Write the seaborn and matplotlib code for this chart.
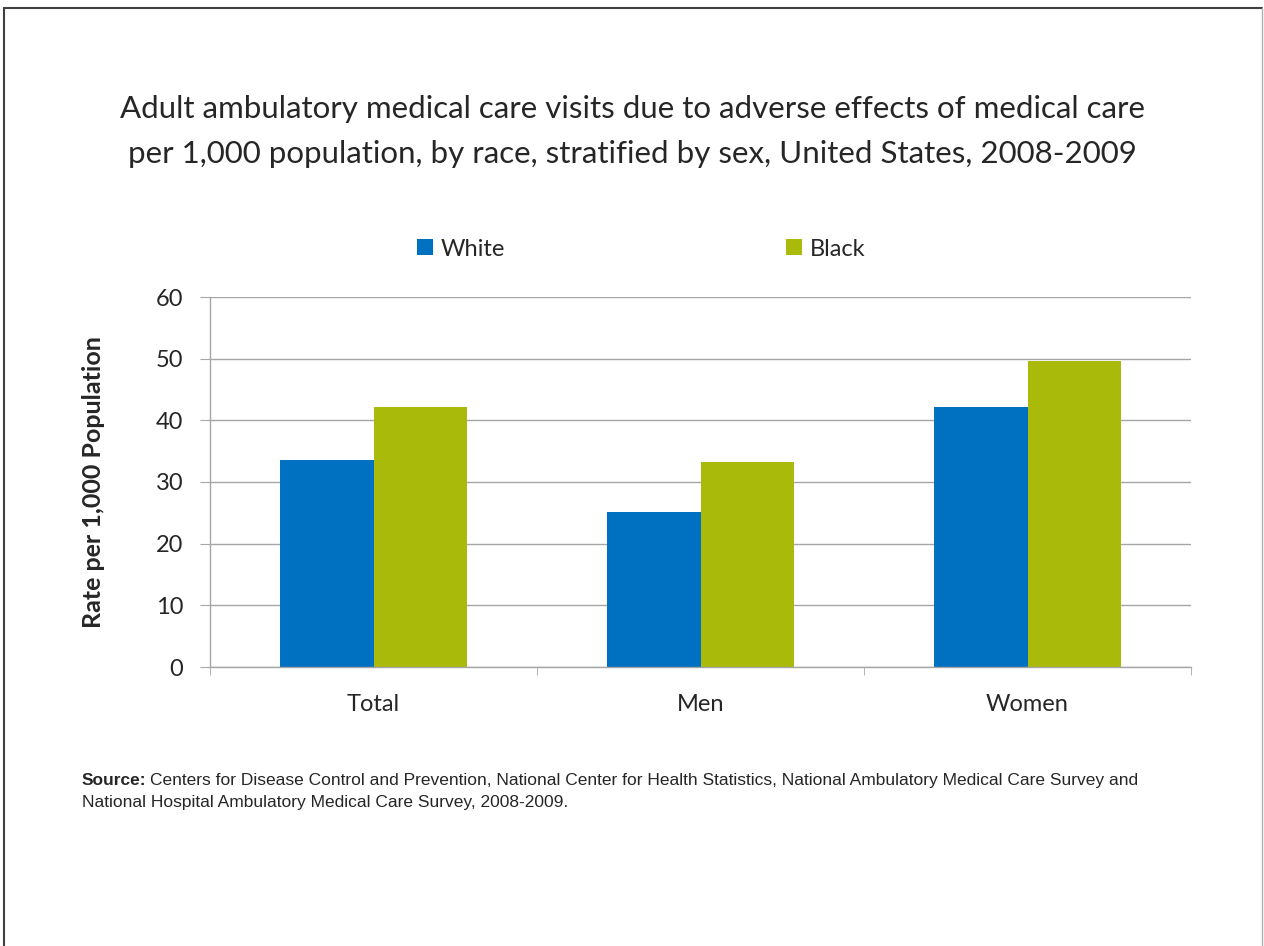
import matplotlib
matplotlib.use('Agg')
import matplotlib.pyplot as plt
import seaborn as sns
import pandas as pd
from matplotlib.lines import Line2D

groups = ['Total', 'Men', 'Women']
races = ['White', 'Black']
white = [33.6, 25.1, 42.1]
black = [42.1, 33.2, 49.7]

rows = []
for g, w, b in zip(groups, white, black):
    rows.append([g, 'White', w])
    rows.append([g, 'Black', b])
df = pd.DataFrame(rows, columns=['group', 'race', 'rate'])

sns.set_style('white')
plt.rcParams['font.family'] = ['Lato', 'DejaVu Sans']

W, H = 1264, 946
fig = plt.figure(figsize=(W / 100, H / 100), dpi=100)
ax = fig.add_axes([210 / W, 1 - 667 / H, 981 / W, 370 / H])

palette = {'White': '#0070C0', 'Black': '#A9BA0A'}
sns.barplot(data=df, x='group', y='rate', hue='race', hue_order=races,
            palette=palette, width=0.57, saturation=1, linewidth=0, ax=ax)

grid_c = '#A6A6A6'
ax.set_ylim(0, 60)
ax.set_xlim(-0.5, 2.5)
ax.set_yticks(range(0, 61, 10))
ax.yaxis.grid(True, color=grid_c, linewidth=1)
ax.set_axisbelow(True)
for s in ['top', 'right']:
    ax.spines[s].set_visible(False)
for s in ['left', 'bottom']:
    ax.spines[s].set_color(grid_c)
    ax.spines[s].set_linewidth(1)

ax.set_xticks([0, 1, 2])
ax.set_xticks([-0.5, 0.5, 1.5, 2.5], minor=True)
ax.tick_params(axis='x', which='major', length=0, labelsize=17, pad=19.5)
ax.tick_params(axis='x', which='minor', length=6, color=grid_c, bottom=True)
ax.tick_params(axis='y', length=7.2, color=grid_c, labelsize=17, pad=12, left=True)
ax.set_xlabel('')
ax.set_ylabel('Rate per 1,000 Population', fontsize=18, fontweight='bold')
ax.yaxis.set_label_coords((105 - 210) / 981, 0.5)

sns.move_legend(ax, 'center', bbox_to_anchor=(0.5075, 1 - 249 / H),
                bbox_transform=fig.transFigure, ncol=2, title=None, frameon=False,
                fontsize=17, handlelength=0.65, handleheight=0.65, handletextpad=0.35,
                columnspacing=11.9)

fig.text(0.5, 1 - 109 / H,
         'Adult ambulatory medical care visits due to adverse effects of medical care',
         ha='center', va='center', fontsize=22.5)
fig.text(0.5, 1 - 154 / H,
         'per 1,000 population, by race, stratified by sex, United States, 2008-2009',
         ha='center', va='center', fontsize=22.5)

src_kw = dict(fontsize=12.5, family=['Liberation Sans', 'DejaVu Sans'], va='center')
t = fig.text(82 / W, 1 - 780 / H, 'Source:', fontweight='bold', **src_kw)
r = fig.canvas.get_renderer()
bb = t.get_window_extent(renderer=r)
fig.text((bb.x1 + 4) / W, 1 - 780 / H,
         'Centers for Disease Control and Prevention, National Center for Health Statistics, '
         'National Ambulatory Medical Care Survey and', **src_kw)
fig.text(82 / W, 1 - 802 / H,
         'National Hospital Ambulatory Medical Care Survey, 2008-2009.', **src_kw)

# slide frame
fig.add_artist(Line2D([4 / W, 4 / W], [0, 1 - 8 / H], transform=fig.transFigure,
                      color='#404040', linewidth=1.5))
fig.add_artist(Line2D([4 / W, 1262 / W], [1 - 8 / H, 1 - 8 / H],
                      transform=fig.transFigure, color='#404040', linewidth=1.5))
fig.add_artist(Line2D([1262 / W, 1262 / W], [0, 1 - 8 / H], transform=fig.transFigure,
                      color='#B0B0B0', linewidth=1))

fig.savefig('out.png', dpi=100)
